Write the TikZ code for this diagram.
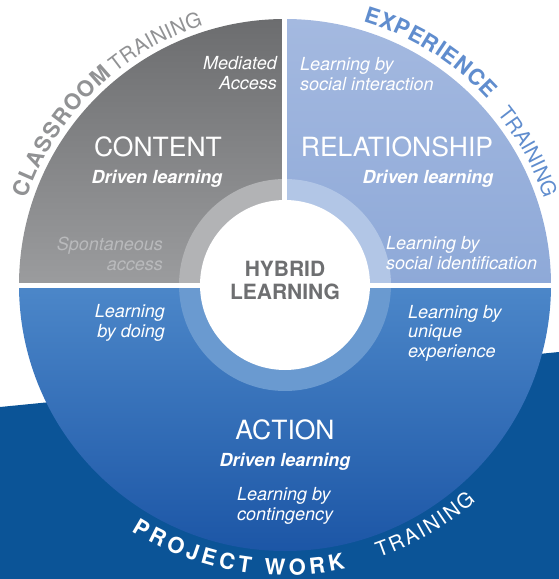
\documentclass[tikz,border=0pt]{standalone}
\usepackage{fontspec}
\setmainfont{TeX Gyre Heros}
\usetikzlibrary{decorations.text}
\begin{document}
\begin{tikzpicture}[x=1pt, y=1pt,
    lbl/.style={text=white, font=\fontsize{18}{19.5}\selectfont\itshape, inner sep=0pt},
    drv/.style={text=white, font=\fontsize{18}{19.5}\selectfont\bfseries\itshape, inner sep=0pt},
    big/.style={text=white, font=\fontsize{26.5}{28}\selectfont, inner sep=0pt},
    arctext/.style={decorate, decoration={text along path, text align=fit to path, text color=#1}}]
    \definecolor{my-navy}{RGB}{11,84,151}
    \definecolor{my-blue-top}{RGB}{76,135,201}
    \definecolor{my-blue-bot}{RGB}{28,86,166}
    \definecolor{my-gray-top}{RGB}{108,109,111}
    \definecolor{my-gray-bot}{RGB}{155,156,158}
    \definecolor{my-sky-top}{RGB}{164,185,224}
    \definecolor{my-sky-bot}{RGB}{142,169,216}
    \definecolor{my-gray-ring}{RGB}{178,179,181}
    \definecolor{my-sky-ring}{RGB}{178,198,230}
    \definecolor{my-blue-ring}{RGB}{106,154,208}
    \definecolor{my-dgray}{RGB}{110,111,113}
    \definecolor{my-lgray}{RGB}{185,186,188}
    \definecolor{my-cls}{RGB}{145,146,148}
    \definecolor{my-exp}{RGB}{96,141,206}
    \def\R{266}
    \def\r{106}
    \useasboundingbox (-285,-294) rectangle (274,285);
    \fill[my-navy] (-285,-122) -- (274,-67) -- (274,-294) -- (-285,-294) -- cycle;
    \shade[top color=my-blue-top, bottom color=my-blue-bot] (-\R,0) arc (180:360:\R) -- cycle;
    \shade[top color=my-gray-top, bottom color=my-gray-bot] (0,0) -- (-\R,0) arc (180:90:\R) -- cycle;
    \shade[top color=my-sky-top, bottom color=my-sky-bot] (0,0) -- (0,\R) arc (90:0:\R) -- cycle;
    \fill[my-gray-ring] (0,0) -- (-\r,0) arc (180:90:\r) -- cycle;
    \fill[my-sky-ring] (0,0) -- (0,\r) arc (90:0:\r) -- cycle;
    \fill[my-blue-ring] (-\r,0) arc (180:360:\r) -- cycle;
    \draw[white, line width=5] (-270,0) -- (270,0) (0,0) -- (0,270);
    \fill[white] (0,0) circle (85);
    \node[font=\fontsize{21}{23}\selectfont\bfseries, text=my-dgray, align=center, inner sep=0pt] (hybrid) at (0,5) {HYBRID\\LEARNING};
    \node[lbl, anchor=east, align=right] (mediated) at (-8,212) {Mediated\\Access};
    \node[big] (content) at (-127,138) {CONTENT};
    \node[drv] (cdriven) at (-128,106) {Driven learning};
    \node[lbl, text=my-lgray, anchor=east, align=right] (spont) at (-122,31) {Spontaneous\\access};
    \node[lbl, anchor=west, align=left] (social) at (15,211) {Learning by\\social interaction};
    \node[big] (relation) at (112,138) {RELATIONSHIP};
    \node[drv] (rdriven) at (143,106) {Driven learning};
    \node[lbl, anchor=west, align=left] (ident) at (101,32) {Learning by\\social identification};
    \node[lbl, anchor=east, align=right] (doing) at (-120,-38) {Learning\\by doing};
    \node[lbl, anchor=west, align=left] (unique) at (123,-48) {Learning by\\unique\\experience};
    \node[big] (action) at (0,-145) {ACTION};
    \node[drv] (adriven) at (0,-177) {Driven learning};
    \node[lbl, anchor=west, align=left] (conting) at (-48,-221) {Learning by\\contingency};
    \path[arctext=my-cls, decoration={text={|\fontsize{22}{22}\selectfont\bfseries|CLASSROOM}}] (161.5:272) arc (161.5:129.5:272);
    \path[arctext=my-cls, decoration={text={|\fontsize{20.5}{20.5}\selectfont|TRAINING}}] (128.5:272) arc (128.5:107.5:272);
    \path[arctext=my-exp, decoration={text={|\fontsize{22}{22}\selectfont\bfseries|EXPERIENCE}}] (73.5:275) arc (73.5:42.5:275);
    \path[arctext=my-exp, decoration={text={|\fontsize{20.5}{20.5}\selectfont|TRAINING}}] (39:273) arc (39:18.5:273);
    \path[arctext=white, decoration={text={|\fontsize{22}{22}\selectfont\bfseries|PROJECT WORK}}] (238:290) arc (238:282:290);
    \path[arctext=white, decoration={text={|\fontsize{20.5}{20.5}\selectfont|TRAINING}}] (289:288) arc (289:311.5:288);
\end{tikzpicture}
\end{document}
